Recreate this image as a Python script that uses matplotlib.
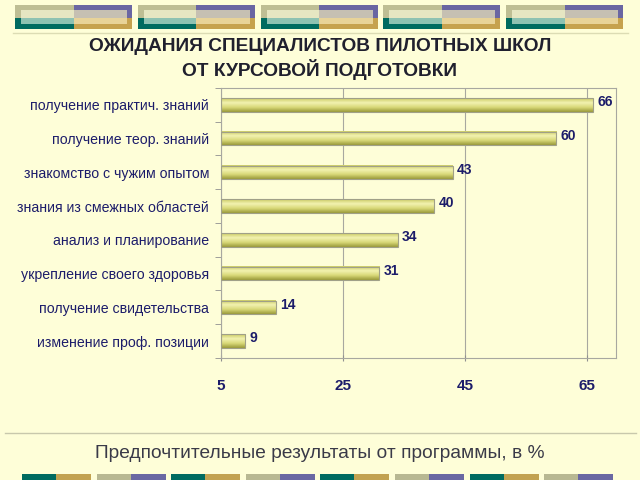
import numpy as np
import matplotlib.pyplot as plt
from matplotlib.patches import Rectangle
from matplotlib.lines import Line2D
from matplotlib.colors import LinearSegmentedColormap

plt.rcParams['font.family'] = ['Liberation Sans', 'DejaVu Sans']

# data
categories = ['получение практич. знаний', 'получение теор. знаний',
              'знакомство с чужим опытом', 'знания из смежных областей',
              'анализ и планирование', 'укрепление своего здоровья',
              'получение свидетельства', 'изменение проф. позиции']
values = [66, 60, 43, 40, 34, 31, 14, 9]
xticks = [5, 25, 45, 65]

title = 'ОЖИДАНИЯ СПЕЦИАЛИСТОВ ПИЛОТНЫХ ШКОЛ\nОТ КУРСОВОЙ ПОДГОТОВКИ'
caption = 'Предпочтительные результаты от программы, в %'

bg = '#fefed8'
navy = '#1c1c6a'

fig = plt.figure(figsize=(6.4, 4.8), dpi=100, facecolor=bg)

# decoration layer in pixel coordinates
deco = fig.add_axes([0, 0, 1, 1], zorder=0)
deco.set_xlim(0, 640)
deco.set_ylim(480, 0)
deco.axis('off')

# top blocks
for i in range(5):
    x0 = 15 + i * 122.8
    w = 117
    h = w / 2
    deco.add_patch(Rectangle((x0, 5), h, 13, color='#bebe94', lw=0))
    deco.add_patch(Rectangle((x0 + h, 5), h, 13, color='#6a66a2', lw=0))
    deco.add_patch(Rectangle((x0, 18), h, 11, color='#006b60', lw=0))
    deco.add_patch(Rectangle((x0 + h, 18), h, 11, color='#c6a24e', lw=0))
    deco.add_patch(Rectangle((x0 + 6, 10), h - 6, 8, color='#e6e6c2', lw=0))
    deco.add_patch(Rectangle((x0 + h, 10), h - 5, 8, color='#c6c0b2', lw=0))
    deco.add_patch(Rectangle((x0 + 6, 18), h - 6, 6, color='#8ec2b2', lw=0))
    deco.add_patch(Rectangle((x0 + h, 18), h - 5, 6, color='#e8d398', lw=0))

# bottom blocks
for i in range(8):
    x0 = 22 + i * 74.6
    if i % 2 == 0:
        c1, c2 = '#006b60', '#c2a250'
    else:
        c1, c2 = '#b8b892', '#6a68a2'
    deco.add_patch(Rectangle((x0, 474), 34, 6, color=c1, lw=0))
    deco.add_patch(Rectangle((x0 + 34, 474), 35, 6, color=c2, lw=0))

deco.add_line(Line2D([13, 628], [33, 33], color='#dcdcb4', lw=1))
deco.add_line(Line2D([5, 636], [433, 433], color='#c8c8ac', lw=1))

fig.text(0.5, 0.877, title, ha='center', va='center', fontsize=13.8,
         fontweight='bold', color='#20202e', linespacing=1.22)
fig.text(0.5, 0.056, caption, ha='center', va='center', fontsize=13.8,
         color='#3a3a48')

# chart
ax = fig.add_axes([0.3453, 0.2542, 0.6172, 0.5625], zorder=1)
ax.set_facecolor('none')
n = len(categories)
ypos = np.arange(n)[::-1]
bh = 0.4
grad = np.linspace(0, 1, 50).reshape(-1, 1)
cmap = LinearSegmentedColormap.from_list('bar', ['#9a9a3a', '#d8d878', '#f2f2b0', '#cccc66'])
for y, v in zip(ypos, values):
    ax.imshow(grad, cmap=cmap, aspect='auto', extent=(5, v, y - bh / 2, y + bh / 2),
              origin='lower', zorder=2, interpolation='bilinear')
    ax.add_patch(Rectangle((5, y - bh / 2), v - 5, bh, fill=False, ec='#a0a088', lw=0.8, zorder=3))
    ax.text(v + 0.7, y + 0.08, str(v), va='center', ha='left', fontsize=10,
            fontweight='bold', color=navy)

ax.set_xlim(5, 69.8)
ax.set_ylim(-0.5, n - 0.5)
ax.set_xticks(xticks)
ax.set_xticklabels([str(t) for t in xticks], fontsize=11, fontweight='bold', color=navy)
ax.tick_params(axis='x', length=4, pad=13, color='#909090', direction='inout')
ax.set_yticks(ypos)
ax.set_yticklabels(categories, fontsize=10.2, color=navy)
ax.set_yticks(np.arange(n + 1) - 0.5, minor=True)
ax.tick_params(axis='y', which='major', length=0, pad=8.5)
ax.tick_params(axis='y', which='minor', length=4, color='#909090')
ax.grid(axis='x', color='#a8a8a0', lw=0.8, zorder=1)
for s in ax.spines.values():
    s.set_color('#a8a8a0')
    s.set_linewidth(0.8)

fig.savefig('out.png', dpi=100, facecolor=bg)
